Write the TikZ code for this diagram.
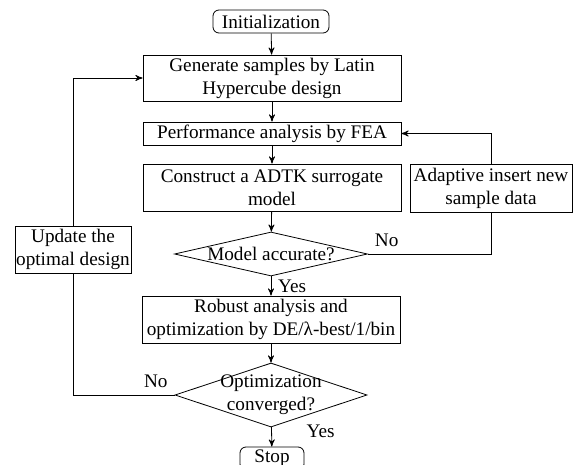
\documentclass[tikz,border=0pt]{standalone}
\usepackage{fontspec}
\setmainfont{Liberation Serif}
\usepackage{tikz}
\usetikzlibrary{arrows, shapes, positioning}

\begin{document}
\begin{tikzpicture}[x=0.5pt,y=-0.5pt,>=stealth',
	every node/.style={font=\fontsize{9.6}{11.5}\selectfont},
	box/.style={draw, align=center, inner sep=0.5pt, minimum width=129pt},
	term/.style={draw, rounded corners=3pt, inner sep=0.5pt, minimum height=11.5pt},
	decision/.style={draw, diamond, inner sep=0pt}]
\useasboundingbox (0,0) rectangle (578,465);

\node[term, minimum width=58pt](init) at (271,21.5) {Initialization};
\node[box, minimum height=23pt](gen) at (272,78) {Generate samples by Latin\\Hypercube design};
\node[box, minimum height=11.5pt](fea) at (272,133.5) {Performance analysis by FEA};
\node[box, minimum height=23.5pt](adtk) at (272,187.5) {Construct a ADTK surrogate\\model};
\node[box, minimum width=81pt, minimum height=24pt](adapt) at (491,188) {Adaptive insert new\\sample data};
\node[decision, minimum width=96.5pt, minimum height=22pt,
	label={center:Model accurate?}](acc) at (271,254) {};
\node[box, minimum height=23.5pt](robust) at (271,319.5) {Robust analysis and\\optimization by DE/λ-best/1/bin};
\node[decision, minimum width=96pt, minimum height=32pt,
	label={[align=center]center:Optimization\\converged?}](conv) at (271,395) {};
\node[box, minimum width=58pt, minimum height=23.5pt](update) at (73,249.5) {Update the\\optimal design};
\node[term, minimum width=32pt](stop) at (272,458.5) {Stop};

\draw[->] (init) -- (gen);
\draw[->] (gen) -- (fea);
\draw[->] (fea) -- (adtk);
\draw[->] (adtk) -- (acc);
\draw[->] (acc) -- node[right]{Yes} (robust);
\draw[->] (robust) -- (conv);
\draw[->] (conv) -- node[pos=0.2, right, xshift=14pt]{Yes} (stop);

\draw (acc.east) node[above right]{No} -| (adapt.south);
\draw[->] (adapt.north) |- (fea.east);
\draw (conv.west) node[above left]{No} -| (update.south);
\draw[->] (update.north) |- (gen.west);
\end{tikzpicture}
\end{document}
